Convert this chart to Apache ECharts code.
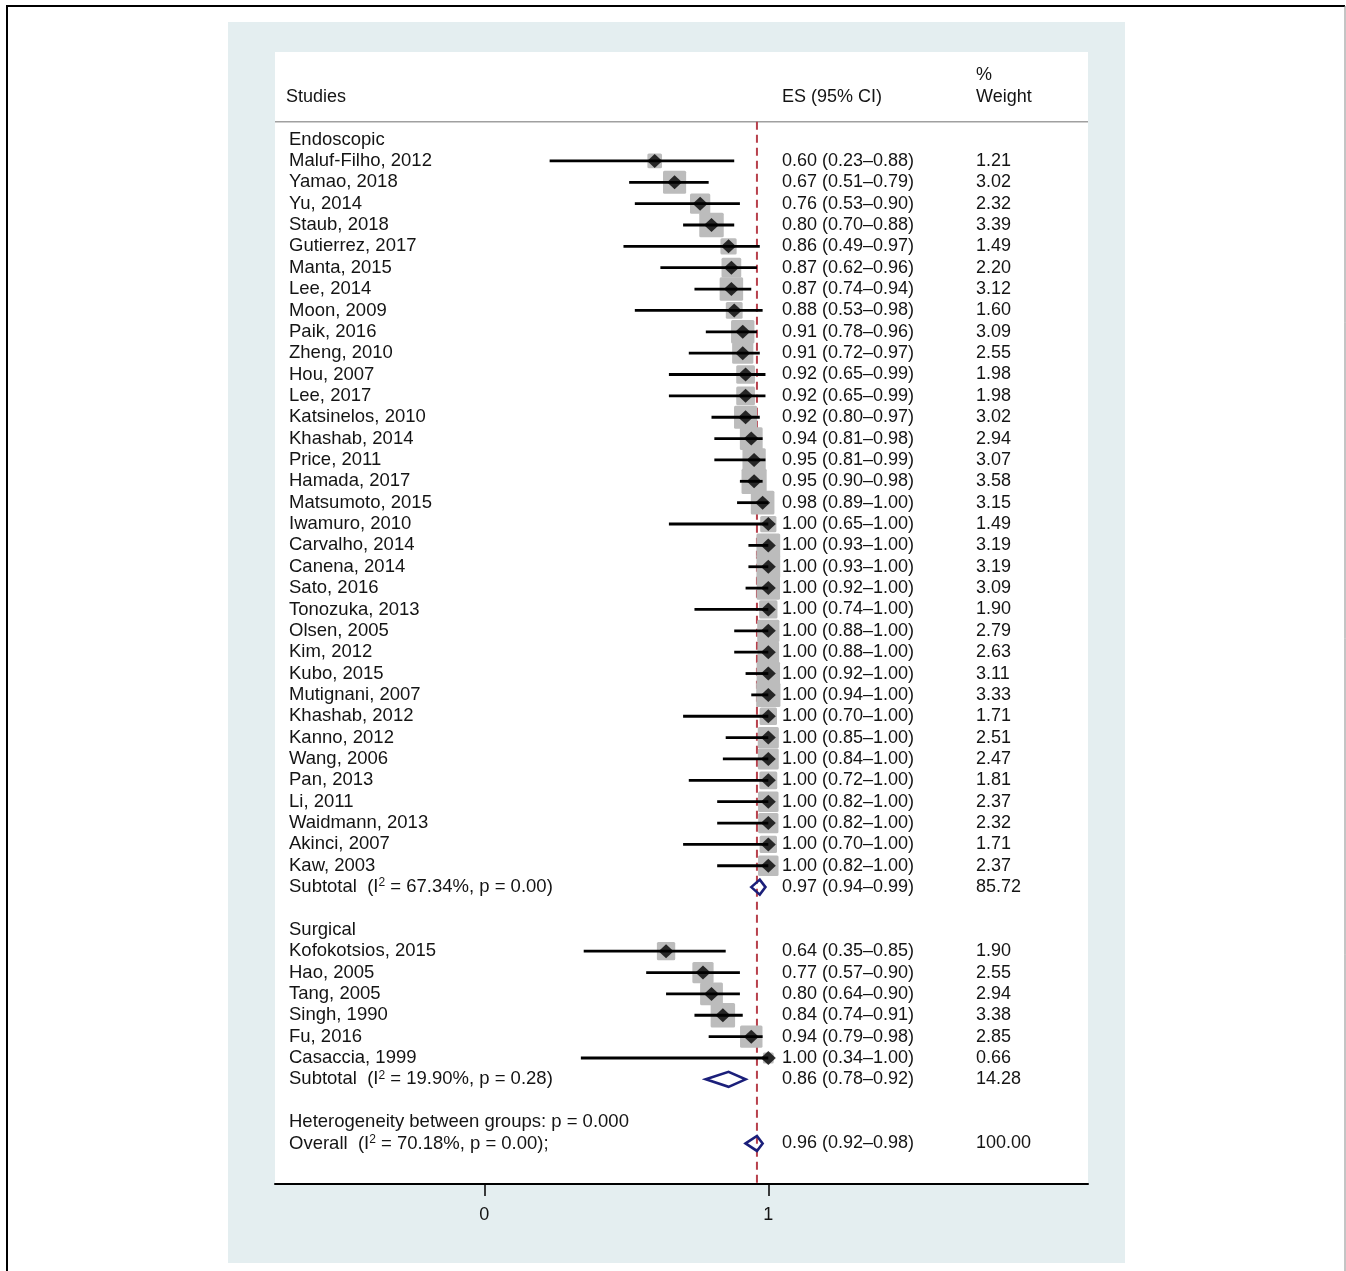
<!DOCTYPE html>
<html>
<head>
<meta charset="utf-8">
<title>Forest plot</title>
<script src="https://cdn.jsdelivr.net/npm/echarts@6/dist/echarts.min.js"></script>
<style>
  html, body { margin: 0; padding: 0; background: #ffffff; }
  #chart { width: 1346px; height: 1271px; }
</style>
</head>
<body>
<div id="chart"></div>
<script>
// ---- Data -------------------------------------------------------------
const groupNames = ['Endoscopic', 'Surgical'];

const endoStudies = [
  'Maluf-Filho, 2012', 'Yamao, 2018', 'Yu, 2014', 'Staub, 2018', 'Gutierrez, 2017',
  'Manta, 2015', 'Lee, 2014', 'Moon, 2009', 'Paik, 2016', 'Zheng, 2010',
  'Hou, 2007', 'Lee, 2017', 'Katsinelos, 2010', 'Khashab, 2014', 'Price, 2011',
  'Hamada, 2017', 'Matsumoto, 2015', 'Iwamuro, 2010', 'Carvalho, 2014', 'Canena, 2014',
  'Sato, 2016', 'Tonozuka, 2013', 'Olsen, 2005', 'Kim, 2012', 'Kubo, 2015',
  'Mutignani, 2007', 'Khashab, 2012', 'Kanno, 2012', 'Wang, 2006', 'Pan, 2013',
  'Li, 2011', 'Waidmann, 2013', 'Akinci, 2007', 'Kaw, 2003'
];
const endoES = [
  0.60, 0.67, 0.76, 0.80, 0.86, 0.87, 0.87, 0.88, 0.91, 0.91,
  0.92, 0.92, 0.92, 0.94, 0.95, 0.95, 0.98, 1.00, 1.00, 1.00,
  1.00, 1.00, 1.00, 1.00, 1.00, 1.00, 1.00, 1.00, 1.00, 1.00,
  1.00, 1.00, 1.00, 1.00
];
const endoLower = [
  0.23, 0.51, 0.53, 0.70, 0.49, 0.62, 0.74, 0.53, 0.78, 0.72,
  0.65, 0.65, 0.80, 0.81, 0.81, 0.90, 0.89, 0.65, 0.93, 0.93,
  0.92, 0.74, 0.88, 0.88, 0.92, 0.94, 0.70, 0.85, 0.84, 0.72,
  0.82, 0.82, 0.70, 0.82
];
const endoUpper = [
  0.88, 0.79, 0.90, 0.88, 0.97, 0.96, 0.94, 0.98, 0.96, 0.97,
  0.99, 0.99, 0.97, 0.98, 0.99, 0.98, 1.00, 1.00, 1.00, 1.00,
  1.00, 1.00, 1.00, 1.00, 1.00, 1.00, 1.00, 1.00, 1.00, 1.00,
  1.00, 1.00, 1.00, 1.00
];
const endoWeight = [
  1.21, 3.02, 2.32, 3.39, 1.49, 2.20, 3.12, 1.60, 3.09, 2.55,
  1.98, 1.98, 3.02, 2.94, 3.07, 3.58, 3.15, 1.49, 3.19, 3.19,
  3.09, 1.90, 2.79, 2.63, 3.11, 3.33, 1.71, 2.51, 2.47, 1.81,
  2.37, 2.32, 1.71, 2.37
];

const surgStudies = ['Kofokotsios, 2015', 'Hao, 2005', 'Tang, 2005', 'Singh, 1990', 'Fu, 2016', 'Casaccia, 1999'];
const surgES     = [0.64, 0.77, 0.80, 0.84, 0.94, 1.00];
const surgLower  = [0.35, 0.57, 0.64, 0.74, 0.79, 0.34];
const surgUpper  = [0.85, 0.90, 0.90, 0.91, 0.98, 1.00];
const surgWeight = [1.90, 2.55, 2.94, 3.38, 2.85, 0.66];

const subtotalLabels = ['Subtotal  (I² = 67.34%, p = 0.00)', 'Subtotal  (I² = 19.90%, p = 0.28)'];
const subtotalES     = [0.97, 0.86];
const subtotalLower  = [0.94, 0.78];
const subtotalUpper  = [0.99, 0.92];
const subtotalWeight = [85.72, 14.28];

const heterogeneityLabel = 'Heterogeneity between groups: p = 0.000';
const overallLabel  = 'Overall  (I² = 70.18%, p = 0.00);';
const overallES     = 0.96;
const overallLower  = 0.92;
const overallUpper  = 0.98;
const overallWeight = 100.00;

const xTickValues = [0, 1];
const headerStudies = 'Studies';
const headerES = 'ES (95% CI)';
const headerWeight = ['%', 'Weight'];

// ---- Layout -------------------------------------------------------------
const FONT = '"Liberation Sans", Arial, Helvetica, sans-serif';
const TEXT_COLOR = '#141414';
const GRID = { left: 275, top: 52, width: 813, height: 1132 };
const X_MIN = -0.737, X_MAX = 2.1257;
const Y_MIN = -4.1, Y_MAX = 48.9;     // row units, rows grow downward
const HEADER_RULE_ROW = -0.84;
const COL_HEAD = 286, COL_LABEL = 289, COL_ES = 782, COL_WEIGHT = 976;
const BOX_SCALE = 13.3;               // grey box side = BOX_SCALE * sqrt(weight)
const NAVY = '#1b1f7a';

// ---- Build row table ---------------------------------------------------
const groups = [
  { name: groupNames[0], studies: endoStudies, es: endoES, lo: endoLower, hi: endoUpper, w: endoWeight },
  { name: groupNames[1], studies: surgStudies, es: surgES, lo: surgLower, hi: surgUpper, w: surgWeight }
];
const studyRows = [];
const summaryRows = [];
const textRows = [];
const fmtCI = (e, l, h) => e.toFixed(2) + ' (' + l.toFixed(2) + '–' + h.toFixed(2) + ')';

let row = 0;
groups.forEach((g, gi) => {
  textRows.push({ row: row, label: g.name });
  row++;
  g.studies.forEach((name, i) => {
    studyRows.push({ row: row, es: g.es[i], lo: g.lo[i], hi: g.hi[i], w: g.w[i] });
    textRows.push({ row: row, label: name, es: fmtCI(g.es[i], g.lo[i], g.hi[i]), w: g.w[i].toFixed(2) });
    row++;
  });
  summaryRows.push({ row: row, es: subtotalES[gi], lo: subtotalLower[gi], hi: subtotalUpper[gi] });
  textRows.push({ row: row, label: subtotalLabels[gi],
    es: fmtCI(subtotalES[gi], subtotalLower[gi], subtotalUpper[gi]), w: subtotalWeight[gi].toFixed(2) });
  row += 2;
});
textRows.push({ row: row, label: heterogeneityLabel });
row++;
summaryRows.push({ row: row, es: overallES, lo: overallLower, hi: overallUpper });
textRows.push({ row: row, label: overallLabel, es: fmtCI(overallES, overallLower, overallUpper), w: overallWeight.toFixed(2) });

// header rows
textRows.push({ row: -2, label: headerStudies, es: headerES, w: headerWeight[1], head: true });
textRows.push({ row: -3, w: headerWeight[0], head: true });

// ---- Chart -------------------------------------------------------------
const chart = echarts.init(document.getElementById('chart'), null, { renderer: 'canvas' });

function textEl(x, y, str, size) {
  return {
    type: 'text', x: x, y: y,
    style: {
      text: str.replace('²', '{sup|2}'),
      fill: TEXT_COLOR, fontSize: size, fontFamily: FONT,
      align: 'left', verticalAlign: 'middle',
      rich: { sup: { fontSize: 12, fontFamily: FONT, fill: TEXT_COLOR, verticalAlign: 'top', lineHeight: 20 } }
    }
  };
}

const option = {
  backgroundColor: '#ffffff',
  animation: false,
  graphic: [
    { type: 'polyline', z: -10, shape: { points: [[7, 1271], [7, 6], [1345, 6]] },
      style: { stroke: '#000000', lineWidth: 2, fill: null } },
    { type: 'line', z: -10, shape: { x1: 1345, y1: 6, x2: 1345, y2: 1271 },
      style: { stroke: '#8a8a8a', lineWidth: 1 } },
    { type: 'rect', z: -9, shape: { x: 228, y: 22, width: 897, height: 1241 },
      style: { fill: '#e4eef0' } },
    { type: 'rect', z: -8, shape: { x: GRID.left, y: GRID.top, width: GRID.width, height: GRID.height },
      style: { fill: '#ffffff' } }
  ],
  grid: { left: GRID.left, top: GRID.top, width: GRID.width, height: GRID.height, show: false },
  xAxis: {
    type: 'value', min: X_MIN, max: X_MAX,
    splitLine: { show: false },
    axisLine: { show: true, onZero: false, lineStyle: { color: '#000000', width: 2 } },
    axisTick: { show: true, customValues: xTickValues, length: 12, lineStyle: { color: '#000000', width: 1.5 } },
    axisLabel: { show: true, customValues: xTickValues, fontSize: 18, fontFamily: FONT, color: TEXT_COLOR, margin: 22 }
  },
  yAxis: { type: 'value', min: Y_MIN, max: Y_MAX, inverse: true, show: false },
  series: [
    // header rule
    {
      type: 'line', silent: true, symbol: 'none', z: 1,
      data: [[X_MIN, HEADER_RULE_ROW], [X_MAX, HEADER_RULE_ROW]],
      lineStyle: { color: '#a0a0a0', width: 1.5 }
    },
    // reference line at the overall estimate
    {
      type: 'line', silent: true, symbol: 'none', z: 1,
      data: [[overallES, HEADER_RULE_ROW], [overallES, Y_MAX]],
      lineStyle: { color: '#b8404c', width: 2, type: [8, 5] }
    },
    // weight boxes
    {
      type: 'custom', silent: true, z: 2,
      encode: { x: 0, y: 1 },
      data: studyRows.map(d => [d.es, d.row, d.w]),
      renderItem: (params, api) => {
        const c = api.coord([api.value(0), api.value(1)]);
        const s = BOX_SCALE * Math.sqrt(api.value(2));
        return { type: 'rect', shape: { x: c[0] - s / 2, y: c[1] - s / 2, width: s, height: s, r: 1.5 },
                 style: { fill: '#bcbcbc' } };
      }
    },
    // confidence intervals
    {
      type: 'custom', silent: true, z: 3,
      encode: { x: [0, 1], y: 2 },
      data: studyRows.map(d => [d.lo, d.hi, d.row]),
      renderItem: (params, api) => {
        const a = api.coord([api.value(0), api.value(2)]);
        const b = api.coord([api.value(1), api.value(2)]);
        return { type: 'line', shape: { x1: a[0], y1: a[1], x2: b[0], y2: b[1] },
                 style: { stroke: '#000000', lineWidth: 2.8 } };
      }
    },
    // point estimates
    {
      type: 'scatter', silent: true, z: 4,
      symbol: 'diamond', symbolSize: [15, 14],
      itemStyle: { color: '#000000' },
      data: studyRows.map(d => [d.es, d.row])
    },
    // pooled estimates
    {
      type: 'custom', silent: true, z: 4,
      encode: { x: [0, 1, 2], y: 3 },
      data: summaryRows.map(d => [d.es, d.lo, d.hi, d.row]),
      renderItem: (params, api) => {
        const e = api.coord([api.value(0), api.value(3)]);
        const l = api.coord([api.value(1), api.value(3)]);
        const h = api.coord([api.value(2), api.value(3)]);
        const hh = 7.5;
        return { type: 'polygon',
                 shape: { points: [[l[0], l[1]], [e[0], e[1] - hh], [h[0], h[1]], [e[0], e[1] + hh]] },
                 style: { fill: 'none', stroke: NAVY, lineWidth: 2.6, lineJoin: 'miter' } };
      }
    },
    // table text
    {
      type: 'custom', silent: true, z: 5,
      encode: { x: 0, y: 1 },
      data: textRows.map((t, i) => [0, t.row, i]),
      renderItem: (params, api) => {
        const t = textRows[api.value(2)];
        const y = api.coord([0, api.value(1)])[1];
        const children = [];
        if (t.label) children.push(textEl(t.head ? COL_HEAD : COL_LABEL, y, t.label, t.head ? 18 : 18.5));
        if (t.es) children.push(textEl(COL_ES, y, t.es, 18));
        if (t.w) children.push(textEl(COL_WEIGHT, y, t.w, 18));
        return { type: 'group', children: children };
      }
    }
  ]
};

chart.setOption(option);
</script>
</body>
</html>
